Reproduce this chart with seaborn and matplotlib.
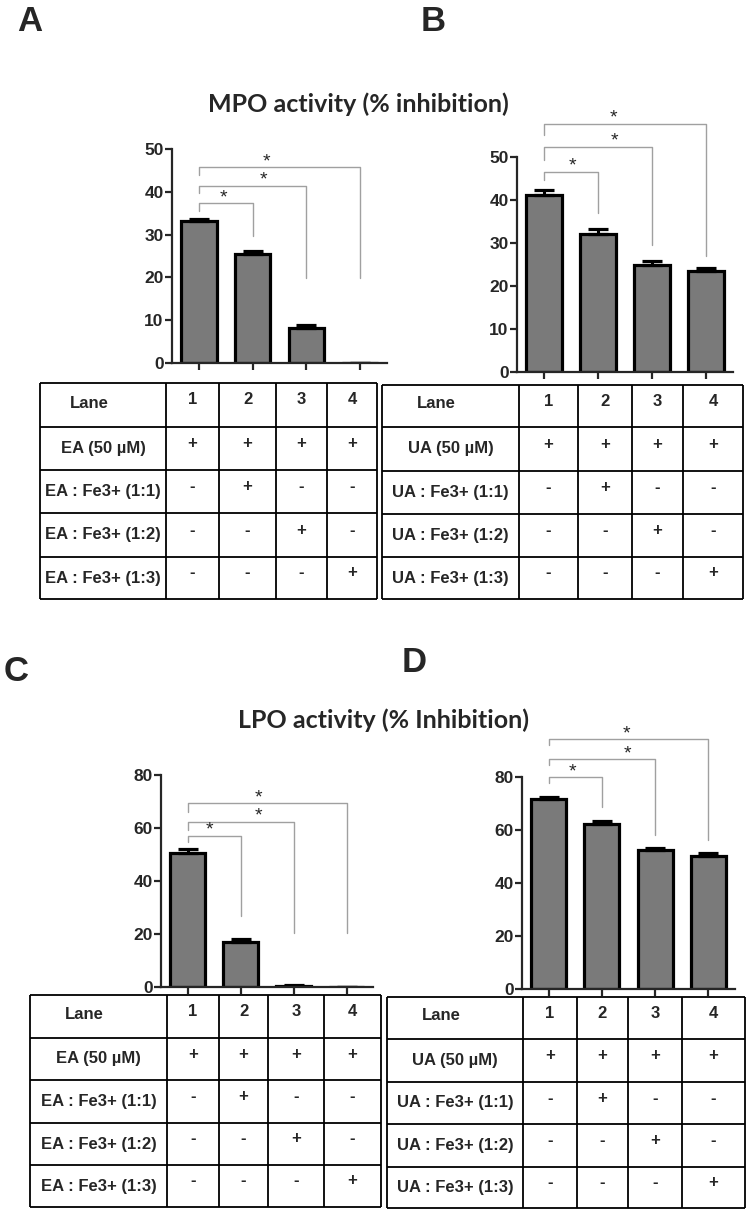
import numpy as np
import pandas as pd
import matplotlib
matplotlib.use("Agg")
import matplotlib.pyplot as plt
import seaborn as sns

# data
lanes = ["1", "2", "3", "4"]
mpo_ea = [33.2, 25.4, 8.1, 0.0]
mpo_ea_err = [0.5, 0.8, 0.8, 0.0]
mpo_ua = [41.2, 32.2, 24.9, 23.6]
mpo_ua_err = [1.1, 1.1, 0.9, 0.7]
lpo_ea = [50.6, 17.0, 0.5, 0.0]
lpo_ea_err = [1.3, 1.1, 0.4, 0.0]
lpo_ua = [71.6, 62.3, 52.5, 50.3]
lpo_ua_err = [1.0, 1.2, 0.7, 0.9]

ea_rows = ["EA (50 µM)", "EA : Fe3+ (1:1)", "EA : Fe3+ (1:2)", "EA : Fe3+ (1:3)"]
ua_rows = ["UA (50 µM)", "UA : Fe3+ (1:1)", "UA : Fe3+ (1:2)", "UA : Fe3+ (1:3)"]
signs = [["+", "+", "+", "+"],
         ["-", "+", "-", "-"],
         ["-", "-", "+", "-"],
         ["-", "-", "-", "+"]]
star = "*"

sns.set_style("ticks")
plt.rcParams['font.family'] = ['Liberation Sans', 'DejaVu Sans']
plt.rcParams['font.weight'] = 'bold'

W, H = 746, 1211
fig = plt.figure(figsize=(W / 100, H / 100), dpi=100)


def box(x0, y0, x1, y1):
    return [x0 / W, 1 - y1 / H, (x1 - x0) / W, (y1 - y0) / H]


def bar_panel(rect, vals, errs, ymax, step, brackets, star_x):
    ax = fig.add_axes(box(*rect))
    df = pd.DataFrame({"lane": lanes, "val": vals})
    sns.barplot(data=df, x="lane", y="val", ax=ax, color="#7a7a7a", saturation=1,
                edgecolor="black", linewidth=2.3, width=0.66, errorbar=None)
    ax.errorbar(np.arange(4), vals, yerr=[np.zeros(4), errs], fmt="none",
                ecolor="black", elinewidth=2.2, capsize=7, capthick=2.3)
    tops, lefts, rights = brackets
    for j in range(3):
        ax.plot([0, 0, j + 1, j + 1], [lefts[j], tops[j], tops[j], rights[j]],
                color="#a0a0a0", lw=1.0, clip_on=False)
        ax.annotate(star, (star_x[j], tops[j]), xytext=(0, 4), textcoords="offset points",
                    ha="center", va="center", fontsize=14, fontweight="normal",
                    annotation_clip=False)
    ax.set_xlim(-0.5, 3.5)
    ax.set_ylim(0, ymax)
    ax.set_yticks(np.arange(0, ymax + 1, step))
    ax.set_xticklabels([])
    ax.set_xlabel("")
    ax.set_ylabel("")
    sns.despine(ax=ax)
    for s in ["left", "bottom"]:
        ax.spines[s].set_linewidth(1.6)
    ax.tick_params(axis="both", width=1.6, length=5, pad=1, labelsize=12.5)
    for t in ax.get_yticklabels():
        t.set_fontweight("bold")
    return ax


def table_panel(rect, cols, rows, labels):
    x0, y0, x1, y1 = rect
    ax = fig.add_axes(box(x0, y0, x1, y1))
    ax.set_xlim(0, x1 - x0)
    ax.set_ylim(y1 - y0, 0)
    ax.axis("off")
    ax.hlines(rows, 0, cols[-1], color="black", lw=1.3, clip_on=False)
    ax.vlines(cols, 0, rows[-1], color="black", lw=1.3, clip_on=False)
    cx = [(cols[i] + cols[i + 1]) / 2 for i in range(5)]
    cy = [(rows[i] + rows[i + 1]) / 2 for i in range(5)]
    ax.text(cx[0] - 14, cy[0] - 2, "Lane", ha="center", va="center", fontsize=12)
    for k, lane in enumerate(lanes):
        ax.text(cx[k + 1], cy[0] - 5, lane, ha="center", va="center", fontsize=12)
    for r, lab in enumerate(labels):
        ax.text(cx[0], cy[r + 1], lab, ha="center", va="center", fontsize=12)
        for k in range(4):
            ax.text(cx[k + 1], cy[r + 1] - 5, signs[r][k], ha="center", va="center",
                    fontsize=12)


# panel A / B  (MPO)
bar_panel((172, 149, 387, 363), mpo_ea, mpo_ea_err, 50, 10,
          ([37.3, 41.4, 45.7], [35.5, 39.8, 43.9], [29.7, 19.9, 19.9]),
          [0.45, 1.21, 1.25])
bar_panel((517, 157, 733, 372), mpo_ua, mpo_ua_err, 50, 10,
          ([46.6, 52.4, 57.7], [44.7, 49.3, 55.1], [37.0, 29.5, 27.0]),
          [0.52, 1.30, 1.28])
table_panel((40, 383, 377, 599), [0, 126, 179, 236, 287, 337],
            [0, 44, 87, 130, 174, 216], ea_rows)
table_panel((382, 385, 743, 599), [0, 137, 196, 250, 301, 361],
            [0, 42, 86, 129, 172, 214], ua_rows)

# panel C / D  (LPO)
bar_panel((161, 775, 373, 987), lpo_ea, lpo_ea_err, 80, 20,
          ([57.1, 62.4, 69.3], [54.8, 59.2, 66.1], [26.7, 20.2, 20.2]),
          [0.41, 1.33, 1.33])
bar_panel((522, 777, 735, 989), lpo_ua, lpo_ua_err, 80, 20,
          ([79.9, 86.7, 94.2], [77.6, 84.5, 92.1], [68.8, 58.1, 56.2]),
          [0.45, 1.49, 1.47])
table_panel((30, 995, 381, 1207), [0, 137, 189, 238, 294, 351],
            [0, 43, 85, 128, 170, 212], ea_rows)
table_panel((387, 997, 745, 1208), [0, 136, 190, 241, 295, 358],
            [0, 42, 85, 127, 170, 211], ua_rows)

# titles and panel letters
fig.text(358 / W, 1 - 104 / H, "MPO activity (% inhibition)", ha="center", va="center",
         fontsize=18, fontweight="bold", family=["Lato", "DejaVu Sans"])
fig.text(384 / W, 1 - 720 / H, "LPO activity (% Inhibition)", ha="center", va="center",
         fontsize=18, fontweight="bold", family=["Lato", "DejaVu Sans"])
for lab, x, y in [("A", 17, 5), ("B", 421, 5), ("C", 4, 655), ("D", 402, 646)]:
    fig.text(x / W, 1 - y / H, lab, ha="left", va="top", fontsize=25, fontweight="bold")

fig.savefig("out.png", dpi=100, facecolor="white")
